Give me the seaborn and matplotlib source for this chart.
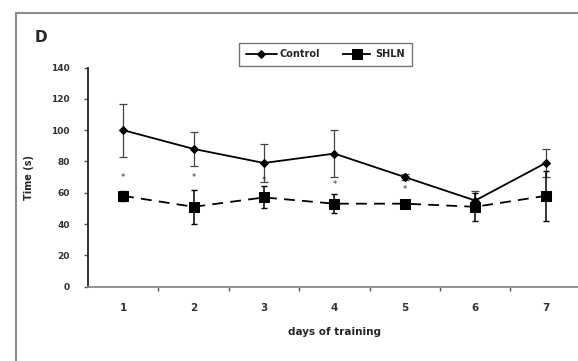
import matplotlib
matplotlib.use("Agg")
import matplotlib.pyplot as plt
import seaborn as sns
import pandas as pd
from matplotlib.patches import Rectangle

days = [1, 2, 3, 4, 5, 6, 7]
control = [100, 88, 79, 85, 70, 55, 79]
control_err = [17, 11, 12, 15, 2, 6, 9]
shln = [58, 51, 57, 53, 53, 51, 58]
shln_err = [3, 11, 7, 6, 1, 9, 16]
star_y = [70, 70, 68, 65, 62]
yticks = [0, 20, 40, 60, 80, 100, 120, 140]

df = pd.DataFrame({"day": days, "Control": control, "SHLN": shln})

sns.set_style("white")
plt.rcParams['font.family'] = ['DejaVu Sans']

fig = plt.figure(figsize=(5.78, 3.61), dpi=100)
ax = fig.add_axes([0.152, 0.206, 0.853, 0.607])

# outer frame of the panel
fig.patches.append(Rectangle((0.028, -0.05), 1.1, 1.014,
                             transform=fig.transFigure, fill=False,
                             edgecolor="#8c8c8c", linewidth=1.5))

ax.errorbar(days, control, yerr=control_err, fmt="none", ecolor="#444444",
            elinewidth=0.9, capsize=3, capthick=0.9, zorder=2)
ax.errorbar(days, shln, yerr=shln_err, fmt="none", ecolor="black",
            elinewidth=1.1, capsize=2.5, capthick=1, zorder=2)

sns.lineplot(data=df, x="day", y="Control", ax=ax, color="black", linewidth=1.3,
             marker="D", markersize=4, markeredgecolor="black", label="Control", zorder=3)
sns.lineplot(data=df, x="day", y="SHLN", ax=ax, color="black", linewidth=1.3,
             marker="s", markersize=6.5, markeredgecolor="black", label="SHLN", zorder=3)
ax.lines[-1].set_dashes([6, 4])

for d, y in zip(days[:5], star_y):
    ax.text(d, y, "*", ha="center", va="center", fontsize=6, color="#333333")

ax.set_xlim(0.5, 7.5)
ax.set_ylim(0, 140)
ax.set_yticks(yticks)
ax.set_xticks(days)
ax.set_xticks([1.5, 2.5, 3.5, 4.5, 5.5, 6.5], minor=True)
ax.tick_params(axis="x", which="major", length=0, pad=12, labelsize=7.5)
ax.tick_params(axis="x", which="minor", length=3, width=1, direction="out", color="#555555", bottom=True)
ax.tick_params(axis="y", length=3, width=1, direction="out", color="#555555", pad=10, labelsize=6.5, left=True)
for lab in ax.get_xticklabels() + ax.get_yticklabels():
    lab.set_fontweight("bold")
    lab.set_color("#333333")

ax.set_xlabel("days of training", fontsize=7.5, labelpad=10)
ax.set_ylabel("Time (s)", fontsize=7, labelpad=12)
ax.xaxis.label.set_fontweight("bold")
ax.yaxis.label.set_fontweight("bold")

sns.despine(ax=ax)
ax.spines["left"].set_color("#222222")
ax.spines["left"].set_linewidth(1.3)
ax.spines["bottom"].set_color("#888888")
ax.spines["bottom"].set_linewidth(1.3)

leg = ax.legend(loc="upper center", bbox_to_anchor=(0.563, 0.882), bbox_transform=fig.transFigure,
                ncol=2, fontsize=7, frameon=True, fancybox=False, handlelength=3.2,
                columnspacing=2.2, borderpad=0.7, handletextpad=0.3, borderaxespad=0)
leg.get_frame().set_edgecolor("#555555")
leg.get_frame().set_linewidth(1.0)
for t in leg.get_texts():
    t.set_fontweight("bold")

fig.text(0.06, 0.895, "D", fontsize=11, fontweight="bold", ha="left", va="center")

fig.savefig("out.png", dpi=100)
